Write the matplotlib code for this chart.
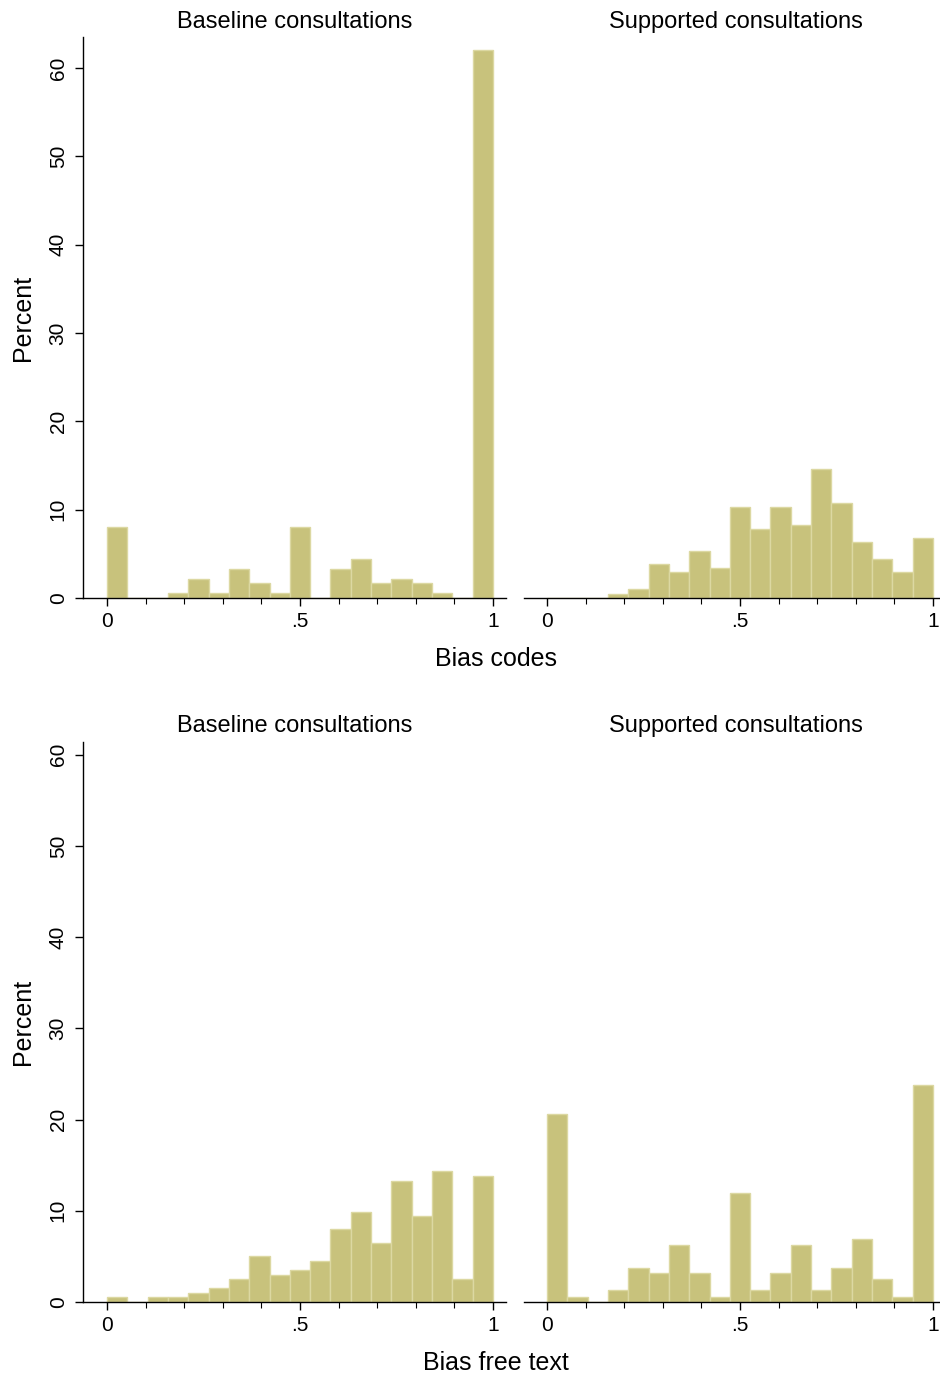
import numpy as np
import matplotlib
matplotlib.use("Agg")
import matplotlib.pyplot as plt
from matplotlib.ticker import MultipleLocator, FixedLocator

plt.rcParams["font.family"] = ["Liberation Sans", "DejaVu Sans"]

# percent per bin, 19 equal bins on [0, 1]
codes_baseline = [8.0, 0, 0, 0.55, 2.2, 0.55, 3.3, 1.65, 0.55, 8.0,
                  0, 3.3, 4.4, 1.65, 2.2, 1.65, 0.55, 0, 62.0]
codes_supported = [0, 0, 0, 0.45, 1.0, 3.85, 2.9, 5.3, 3.4, 10.3,
                   7.8, 10.3, 8.3, 14.6, 10.7, 6.3, 4.4, 2.9, 6.8]
free_baseline = [0.5, 0, 0.5, 0.5, 1.0, 1.5, 2.5, 5.0, 3.0, 3.5,
                 4.5, 8.0, 9.9, 6.5, 13.3, 9.4, 14.4, 2.5, 13.8]
free_supported = [20.6, 0.6, 0, 1.3, 3.75, 3.15, 6.3, 3.15, 0.6, 11.9,
                  1.3, 3.15, 6.3, 1.3, 3.75, 6.9, 2.5, 0.6, 23.8]

panel_titles = ["Baseline consultations", "Supported consultations"]
row_xlabels = ["Bias codes", "Bias free text"]
x_ticks = [0, 0.5, 1]
x_ticklabels = ["0", ".5", "1"]
y_ticks = [0, 10, 20, 30, 40, 50, 60]

FILL = "#c8c27c"
EDGE = "#dcd8a2"

W, H = 940, 1374
fig = plt.figure(figsize=(W / 100, H / 100), dpi=100)


def px_axes(left, right, top, bottom):
    return fig.add_axes([left / W, 1 - bottom / H, (right - left) / W, (bottom - top) / H])


def draw(ax, values, ytop, xlim, show_y):
    n = len(values)
    edges = np.linspace(0, 1, n + 1)
    ax.bar(edges[:-1], values, width=1 / n, align="edge",
           color=FILL, edgecolor=EDGE, linewidth=1.0)
    ax.set_xlim(*xlim)
    ax.set_ylim(0, ytop)
    for s in ("top", "right"):
        ax.spines[s].set_visible(False)
    ax.spines["bottom"].set_linewidth(1.0)
    ax.spines["left"].set_linewidth(1.0)
    ax.xaxis.set_major_locator(FixedLocator(x_ticks))
    ax.set_xticklabels(x_ticklabels)
    ax.xaxis.set_minor_locator(MultipleLocator(0.1))
    ax.tick_params(axis="x", which="major", length=6, width=1, labelsize=15, pad=4)
    ax.tick_params(axis="x", which="minor", length=4, width=0.8)
    if show_y:
        ax.yaxis.set_major_locator(FixedLocator(y_ticks))
        ax.tick_params(axis="y", length=6, width=1, labelsize=15, pad=5)
        for lab in ax.get_yticklabels():
            lab.set_rotation(90)
            lab.set_va("center")
        ax.set_ylabel("Percent", fontsize=18, labelpad=10)
    else:
        ax.spines["left"].set_visible(False)
        ax.set_yticks([])


rows = [
    # (left panel data, right panel data, top px, bottom px, ylim top, title y, xlabel y)
    (codes_baseline, codes_supported, 37, 598, 63.5, 22, 659),
    (free_baseline, free_supported, 742, 1302, 61.4, 726, 1363),
]

for r, (left_vals, right_vals, top, bottom, ytop, title_y, xlab_y) in enumerate(rows):
    ax_l = px_axes(83, 506, top, bottom)
    draw(ax_l, left_vals, ytop, ((83 - 107) / 386, (506 - 107) / 386), True)
    ax_r = px_axes(524, 939, top, bottom)
    draw(ax_r, right_vals, ytop, ((524 - 547) / 386, (939 - 547) / 386), False)

    fig.text(295 / W, 1 - title_y / H, panel_titles[0], ha="center", va="center", fontsize=17)
    fig.text(736 / W, 1 - title_y / H, panel_titles[1], ha="center", va="center", fontsize=17)
    fig.text(496 / W, 1 - xlab_y / H, row_xlabels[r], ha="center", va="center", fontsize=18)

fig.savefig("out.png", dpi=100, facecolor="white")
